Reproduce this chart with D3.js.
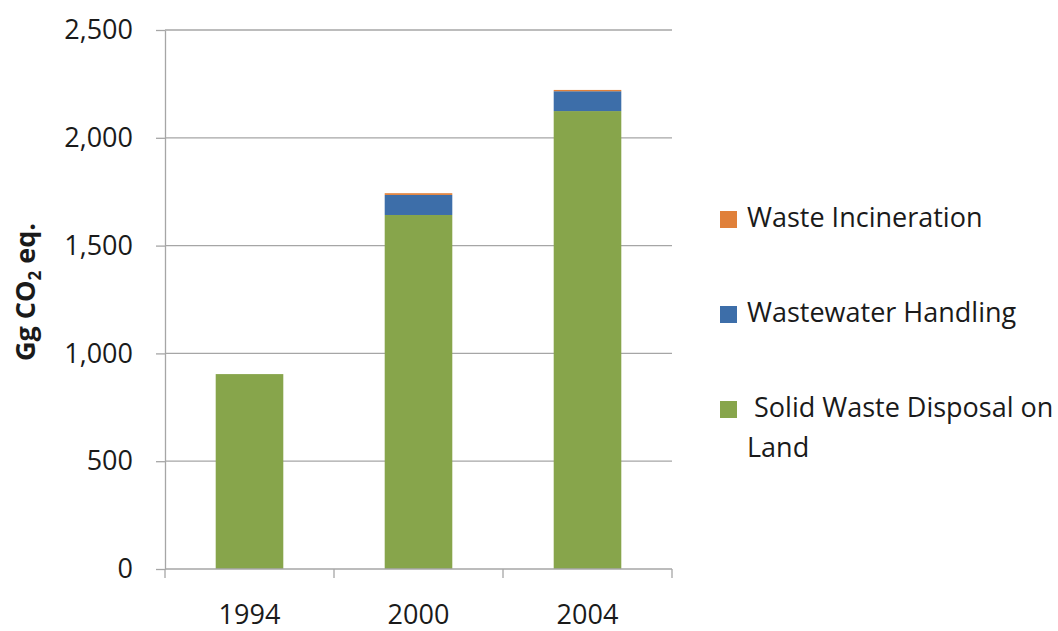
<!DOCTYPE html>
<html><head><meta charset="utf-8">
<script src="https://cdn.jsdelivr.net/npm/d3@7"></script>
<style>body{margin:0;background:#fff}svg{display:block}text{font-family:"Open Sans",sans-serif;fill:#1a1a1a}</style>
</head><body><svg id="c" width="1058" height="631"></svg>
<script>
const years = ["1994","2000","2004"];
const solidWaste = [904, 1642, 2124];
const wastewater = [0, 93, 92];
const incineration = [0, 8, 6];
const seriesNames = ["Solid Waste Disposal on Land","Wastewater Handling","Waste Incineration"];
const seriesColors = ["#87A54B","#3D6EA9","#E0803A"];
const yTicks = [0,500,1000,1500,2000,2500];

const svg = d3.select("#c");
const pLeft=165, pRight=672, pTop=30, pBottom=569;
const x = d3.scaleBand().domain(years).range([pLeft,pRight]).paddingInner(0.6).paddingOuter(0.3);
const y = d3.scaleLinear().domain([0,2500]).range([pBottom,pTop]);

const rows = years.map((yr,i)=>({year:yr, s0:solidWaste[i], s1:wastewater[i], s2:incineration[i]}));
const stack = d3.stack().keys(["s0","s1","s2"])(rows);

// gridlines
svg.append("g").selectAll("line").data(yTicks.filter(d=>d>0)).join("line")
  .attr("x1",pLeft).attr("x2",pRight).attr("y1",d=>y(d)).attr("y2",d=>y(d))
  .attr("stroke","#A6A6A6").attr("stroke-width",1.3);

// bars
svg.append("g").selectAll("g").data(stack).join("g").attr("fill",(d,i)=>seriesColors[i])
  .selectAll("rect").data(d=>d.filter(p=>p[1]-p[0]>0)).join("rect")
  .attr("x",d=>x(d.data.year)).attr("width",x.bandwidth())
  .attr("y",d=>y(d[1])).attr("height",d=>y(d[0])-y(d[1]));

// y axis
const ya = svg.append("g").attr("transform",`translate(${pLeft},0)`)
  .call(d3.axisLeft(y).tickValues(yTicks).tickFormat(d3.format(",")).tickSizeInner(9).tickSizeOuter(0).tickPadding(23));
ya.select(".domain").attr("stroke","#A6A6A6").attr("stroke-width",1.3);
ya.selectAll(".tick line").attr("stroke","#A6A6A6").attr("stroke-width",1.3);
ya.selectAll(".tick text").attr("font-size",27).attr("font-family","Open Sans").attr("fill","#1a1a1a");

// x axis
const xb = d3.scaleLinear().domain([0,3]).range([pLeft,pRight]);
const xa = svg.append("g").attr("transform",`translate(0,${pBottom})`);
xa.append("line").attr("x1",pLeft).attr("x2",pRight).attr("stroke","#A6A6A6").attr("stroke-width",1.3);
xa.selectAll("line.t").data([0,1,2,3]).join("line").attr("class","t")
  .attr("x1",d=>xb(d)).attr("x2",d=>xb(d)).attr("y1",0).attr("y2",9)
  .attr("stroke","#A6A6A6").attr("stroke-width",1.3);
xa.selectAll("text").data(years).join("text")
  .attr("x",d=>x(d)+x.bandwidth()/2).attr("y",55).attr("text-anchor","middle")
  .attr("font-size",27).text(d=>d);

// y title
const yt = svg.append("text").attr("transform","translate(35,292) rotate(-90)")
  .attr("text-anchor","middle").attr("font-size",27).attr("font-weight","bold");
yt.append("tspan").text("Gg CO");
yt.append("tspan").attr("font-size",17).attr("dy",6).text("2");
yt.append("tspan").attr("dy",-6).text(" eq.");

// legend
const legend = [
  {color:seriesColors[2], y:219, lines:[seriesNames[2]]},
  {color:seriesColors[1], y:314, lines:[seriesNames[1]]},
  {color:seriesColors[0], y:409, lines:[" Solid Waste Disposal on","Land"]}
];
const lg = svg.append("g");
legend.forEach(l=>{
  lg.append("rect").attr("x",720).attr("y",l.y-8).attr("width",17).attr("height",17).attr("fill",l.color);
  const t = lg.append("text").attr("font-size",27).attr("x",747).attr("y",l.y+8).attr("xml:space","preserve");
  l.lines.forEach((s,i)=>t.append("tspan").attr("x",747).attr("dy",i?40:0).text(s));
});
</script></body></html>
